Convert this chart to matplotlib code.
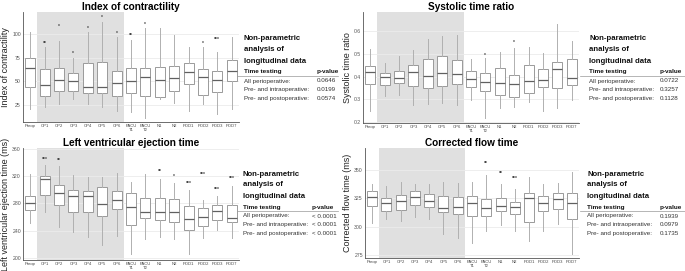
import matplotlib
matplotlib.use("Agg")
import matplotlib.pyplot as plt
from matplotlib.patches import Rectangle

plt.rcParams['font.family'] = ['Liberation Sans', 'DejaVu Sans']

categories = ["Preop", "OP1", "OP2", "OP3", "OP4", "OP5", "OP6", "PACU\nT1", "PACU\nT2",
              "N1", "N2", "POD1", "POD2", "POD3", "POD7"]

# Index of contractility: whisker low, Q1, median, Q3, whisker high
ic_low = [20.4, 23.2, 26.4, 31.3, 25.7, 22.5, 18.7, 17.3, 11.3, 31.0, 27.0, 18.7, 25.7, 15.1, 20.8]
ic_q1 = [43.7, 34.2, 39.8, 39.8, 37.3, 37.3, 34.9, 37.3, 34.2, 33.1, 39.8, 47.2, 35.6, 38.4, 50.7]
ic_med = [63.7, 45.8, 51.0, 50.4, 43.7, 43.7, 48.2, 50.4, 54.2, 51.4, 53.2, 59.9, 54.9, 51.0, 61.3]
ic_q3 = [75.0, 62.7, 64.4, 59.2, 69.7, 70.0, 61.3, 63.7, 63.7, 65.5, 65.8, 69.4, 63.0, 61.0, 72.2]
ic_high = [101.8, 86.6, 91.9, 75.0, 101.8, 112.7, 96.5, 93.7, 106.0, 106.0, 98.6, 85.9, 85.9, 80.3, 96.5]
ic_stars = ["", "**", "*", "*", "*", "*", "*", "**", "*", "", "", "", "*", "***", ""]
ic_star_y = [0, 90.0, 107.7, 79.6, 106.0, 117.6, 100.7, 97.9, 110.0, 0, 0, 0, 90.0, 94.4, 0]
ic_p = ["0.0646", "0.0199", "0.0574"]

# Systolic time ratio
str_low = [0.248, 0.314, 0.318, 0.274, 0.279, 0.286, 0.274, 0.298, 0.219, 0.261, 0.266, 0.288, 0.248, 0.261, 0.298]
str_q1 = [0.366, 0.363, 0.371, 0.359, 0.349, 0.358, 0.366, 0.353, 0.337, 0.318, 0.312, 0.330, 0.353, 0.349, 0.362]
str_med = [0.420, 0.397, 0.394, 0.419, 0.401, 0.415, 0.413, 0.388, 0.375, 0.372, 0.369, 0.381, 0.387, 0.432, 0.393]
str_q3 = [0.448, 0.417, 0.426, 0.452, 0.480, 0.489, 0.474, 0.423, 0.418, 0.439, 0.406, 0.451, 0.435, 0.463, 0.479]
str_high = [0.520, 0.460, 0.493, 0.517, 0.565, 0.578, 0.582, 0.477, 0.482, 0.509, 0.527, 0.531, 0.505, 0.631, 0.558]
str_stars = ["", "", "", "", "", "", "", "", "*", "", "*", "", "", "", ""]
str_star_y = [0, 0, 0, 0, 0, 0, 0, 0, 0.495, 0, 0.549, 0, 0, 0, 0]
str_p = ["0.0722", "0.3257", "0.1128"]

# Left ventricular ejection time (ms)
lvet_low = [250.9, 267.9, 246.0, 238.3, 231.5, 218.9, 232.0, 206.8, 227.6, 231.5, 227.6, 206.3, 229.1, 240.7, 229.1]
lvet_q1 = [269.8, 292.6, 278.5, 267.9, 267.9, 261.1, 271.8, 248.5, 258.2, 255.3, 253.3, 241.2, 247.0, 256.2, 252.4]
lvet_med = [281.0, 315.9, 295.5, 290.2, 290.2, 279.5, 284.4, 274.7, 266.9, 267.9, 267.4, 257.7, 259.6, 268.4, 258.7]
lvet_q3 = [291.2, 320.2, 306.7, 299.9, 298.9, 303.8, 298.9, 295.5, 287.8, 287.8, 286.3, 276.2, 272.7, 278.1, 277.1]
lvet_high = [323.6, 336.7, 335.3, 321.7, 318.8, 318.3, 325.1, 311.5, 323.6, 316.4, 309.6, 300.4, 285.8, 290.7, 306.2]
lvet_stars = ["", "***", "**", "", "", "", "", "", "", "**", "*", "***", "***", "***", "***"]
lvet_star_y = [0, 345.0, 343.0, 0, 0, 0, 0, 0, 0, 327.0, 320.0, 310.0, 322.0, 300.0, 317.0]
lvet_p = ["< 0.0001", "< 0.0001", "< 0.0001"]

# Corrected flow time (ms)
cft_low = [303.4, 307.0, 304.6, 308.4, 307.0, 293.8, 290.2, 285.3, 296.1, 301.7, 295.8, 287.6, 296.1, 302.2, 276.2]
cft_q1 = [318.4, 314.0, 314.8, 319.0, 316.9, 312.5, 311.3, 309.6, 309.6, 313.7, 311.3, 304.0, 313.7, 315.7, 306.6]
cft_med = [326.3, 320.7, 322.8, 326.3, 322.8, 316.6, 317.5, 321.0, 316.0, 318.1, 316.9, 324.8, 320.4, 324.5, 320.7]
cft_q3 = [331.0, 324.8, 327.4, 331.5, 328.6, 327.2, 325.7, 327.2, 324.2, 325.4, 321.9, 329.8, 326.9, 329.2, 329.8]
cft_high = [337.7, 335.4, 339.2, 337.7, 337.1, 339.5, 338.3, 339.5, 345.3, 337.7, 333.3, 343.6, 337.4, 338.3, 347.7]
cft_stars = ["", "", "", "", "", "", "", "", "**", "**", "***", "", "", "", ""]
cft_star_y = [0, 0, 0, 0, 0, 0, 0, 0, 355.5, 347.0, 342.5, 0, 0, 0, 0]
cft_p = ["0.1939", "0.0979", "0.1735"]

row_labels = ["All perioperative:", "Pre- and intraoperative:", "Pre- and postoperative:"]

W, H = 685, 271
fig = plt.figure(figsize=(W / 100, H / 100), dpi=100)


def px_axes(l, r, t, b):
    return fig.add_axes([l / W, 1 - b / H, (r - l) / W, (b - t) / H])


def panel(ax, title, ylabel, low, q1, med, q3, high, stars, star_y, ylim, yticks):
    n = len(categories)
    pos = list(range(n))
    ax.set_xlim(-0.5, n - 0.5)
    ax.set_ylim(*ylim)
    ax.add_patch(Rectangle((0.5, ylim[0]), 6, ylim[1] - ylim[0], facecolor='#e0e0e0',
                           edgecolor='none', zorder=0))
    for y in yticks:
        ax.axhline(y, color='#ebebeb', lw=0.6, zorder=0.5)
    stats = []
    for i in range(n):
        stats.append(dict(whislo=low[i], q1=q1[i], med=med[i], q3=q3[i], whishi=high[i], fliers=[]))
    ax.bxp(stats, positions=pos, widths=0.7, showcaps=False, showfliers=False, patch_artist=True,
           boxprops=dict(facecolor='white', edgecolor='#9a9a9a', lw=0.7),
           whiskerprops=dict(color='#b0b0b0', lw=0.7),
           medianprops=dict(color='#606060', lw=0.9), zorder=2)
    for i in range(n):
        if stars[i]:
            ax.text(pos[i], star_y[i], stars[i], ha='center', va='center', fontsize=3.6,
                    color='#444444', fontweight='bold', zorder=3)
    ax.set_xticks(pos)
    ax.set_xticklabels(categories, fontsize=3.0, color='#444444', linespacing=0.95)
    ax.set_yticks(yticks)
    ax.set_yticklabels([("%g" % y) for y in yticks], fontsize=3.7, color='#555555')
    ax.tick_params(axis='both', length=0, pad=1.5)
    for s in ['top', 'right']:
        ax.spines[s].set_visible(False)
    for s in ['left', 'bottom']:
        ax.spines[s].set_color('#555555')
        ax.spines[s].set_linewidth(0.6)
    ax.set_title(title, fontsize=7.2, fontweight='bold', pad=1.5)
    ax.set_ylabel(ylabel, fontsize=6.5, labelpad=1.5, color='#222222')


def table(x0, xp, ytop, pvals, line_x0, line_x1):
    def T(x, y, s, **kw):
        fig.text(x / W, 1 - y / H, s, va='center', ha='left', **kw)
    for k, s in enumerate(["Non-parametric", "analysis of", "longitudinal data"]):
        T(x0, ytop + 11 * k, s, fontsize=5.6, fontweight='bold', color='#111111')
    T(x0, ytop + 33, "Time testing", fontsize=4.6, fontweight='bold', color='#111111')
    T(xp, ytop + 33, "p-value", fontsize=4.6, fontweight='bold', color='#111111')
    fig.add_artist(plt.Line2D([line_x0 / W, line_x1 / W], [1 - (ytop + 37) / H] * 2,
                              color='#999999', lw=0.5))
    for k in range(3):
        T(x0, ytop + 42 + 8.6 * k, row_labels[k], fontsize=4.5, color='#333333')
        T(xp, ytop + 42 + 8.6 * k, pvals[k], fontsize=4.5, color='#333333')


ax1 = px_axes(23, 239, 12, 122)
panel(ax1, "Index of contractility", "Index of contractility",
      ic_low, ic_q1, ic_med, ic_q3, ic_high, ic_stars, ic_star_y, (7, 123), [25, 50, 75, 100])
ax2 = px_axes(363, 579, 12, 123)
panel(ax2, "Systolic time ratio", "Systolic time ratio",
      str_low, str_q1, str_med, str_q3, str_high, str_stars, str_star_y, (0.196, 0.685),
      [0.2, 0.3, 0.4, 0.5, 0.6])
ax3 = px_axes(23, 239, 148, 260)
panel(ax3, "Left ventricular ejection time", "Left ventricular ejection time (ms)",
      lvet_low, lvet_q1, lvet_med, lvet_q3, lvet_high, lvet_stars, lvet_star_y, (197.5, 361),
      [200, 240, 280, 320, 360])
ax4 = px_axes(365, 579, 148, 258)
panel(ax4, "Corrected flow time", "Corrected flow time (ms)",
      cft_low, cft_q1, cft_med, cft_q3, cft_high, cft_stars, cft_star_y, (272.4, 369),
      [275, 300, 325, 350])

table(244, 317, 39, ic_p, 237, 338)
table(589, 660, 39, str_p, 580, 685)
table(243, 312, 174, lvet_p, 237, 338)
table(587, 660, 174, cft_p, 580, 685)

fig.savefig("out.png", dpi=100)
